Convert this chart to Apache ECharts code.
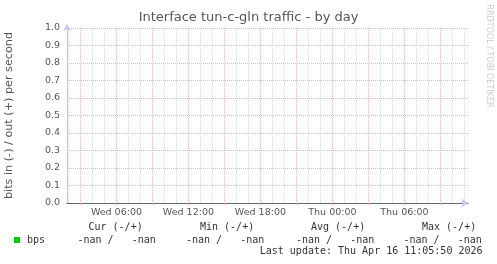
<!DOCTYPE html>
<html>
<head>
<meta charset="utf-8">
<script src="https://cdn.jsdelivr.net/npm/echarts@6/dist/echarts.min.js"></script>
<style>
html,body{margin:0;padding:0;background:#fff;}
#chart{width:497px;height:264px;}
</style>
</head>
<body>
<div id="chart"></div>
<script>
// Time axis in hours since Wed 00:00
const xStartHour = 1.88;
const xEndHour = 35.3;
const minorHours = [2,4,5,7,8,10,11,13,14,16,17,19,20,22,23,25,26,28,29,31,32,34,35];
const majorHours = [3,6,9,12,15,18,21,24,27,30,33];
const labelHours = [6,12,18,24,30];
const xLabels = ['Wed 06:00','Wed 12:00','Wed 18:00','Thu 00:00','Thu 06:00'];
const yTicks = [0,0.1,0.2,0.3,0.4,0.5,0.6,0.7,0.8,0.9,1.0];
// Series (no valid samples: all -nan)
const bpsIn = [];
const bpsOut = [];
const statHeaders = ['Cur (-/+)','Min (-/+)','Avg (-/+)','Max (-/+)'];
const statValues = ['-nan /   -nan','-nan /   -nan','-nan /   -nan','-nan /   -nan'];
const seriesName = 'bps';
const lastUpdate = 'Last update: Thu Apr 16 11:05:50 2026';

const RED = '#f2b0b0';
const GREY = '#d8d8d8';
const TXT = '#555555';
const MONO = '"DejaVu Sans Mono", monospace';
const SANS = '"DejaVu Sans", sans-serif';

const chart = echarts.init(document.getElementById('chart'), null, {renderer:'canvas'});
const plotH = 175;

const headerX = [88.5, 200, 311, 422];
const valueX = [77.5, 186, 296, 403.5];
const graphics = [
  {type:'text', left:'center', top:11, style:{text:'Interface tun-c-gln traffic - by day', font:'13px '+SANS, fill:TXT}},
  {type:'text', x:9.5, y:115.5, rotation:Math.PI/2, style:{text:'bits in (-) / out (+) per second', font:'11.2px '+SANS, fill:TXT, textAlign:'center', textVerticalAlign:'middle'}},
  {type:'text', x:489, y:56, rotation:-Math.PI/2, style:{text:'RRDTOOL / TOBI OETIKER', font:'8px '+SANS, fill:'#cccccc', textAlign:'center', textVerticalAlign:'middle'}},
  {type:'rect', shape:{x:14, y:237, width:6, height:6}, style:{fill:'#00cc00'}},
  {type:'text', x:27, y:240.3, style:{text:seriesName, font:'10px '+MONO, fill:'#333', textVerticalAlign:'middle'}},
  {type:'text', x:482.5, y:251.8, style:{text:lastUpdate, font:'10px '+MONO, fill:'#333', textAlign:'right', textVerticalAlign:'middle'}}
];
statHeaders.forEach((h,i)=>graphics.push({type:'text', x:headerX[i], y:227.7, style:{text:h, font:'10px '+MONO, fill:'#333', textVerticalAlign:'middle'}}));
statValues.forEach((v,i)=>graphics.push({type:'text', x:valueX[i], y:240.3, style:{text:v, font:'10px '+MONO, fill:'#333', textVerticalAlign:'middle'}}));

const option = {
  animation:false,
  backgroundColor:'#ffffff',
  grid:{left:67, right:29, top:28, bottom:61, containLabel:false},
  xAxis:[
    {type:'value', min:xStartHour, max:xEndHour, position:'bottom',
     axisLine:{show:false}, splitLine:{show:false}, axisLabel:{show:false},
     axisTick:{show:true, inside:true, length:plotH, customValues:minorHours, lineStyle:{color:GREY, type:'dotted', width:1}}},
    {type:'value', min:xStartHour, max:xEndHour, position:'bottom',
     axisLine:{show:false}, splitLine:{show:false}, axisLabel:{show:false},
     axisTick:{show:true, inside:true, length:plotH, customValues:majorHours, lineStyle:{color:RED, type:'dotted', width:1}}},
    {type:'value', min:xStartHour, max:xEndHour+0.5, position:'bottom',
     axisLine:{show:true, onZero:false, symbol:['none','arrow'], symbolSize:[7,7], symbolOffset:[0,0], lineStyle:{color:'#c4c8f4', width:1}},
     splitLine:{show:false}, axisLabel:{show:false}, axisTick:{show:false}},
    {type:'value', min:xStartHour, max:xEndHour, position:'bottom',
     axisLine:{show:true, onZero:false, lineStyle:{color:'#666677', width:1.2}},
     splitLine:{show:false},
     axisTick:{show:true, inside:false, length:2, customValues:majorHours, lineStyle:{color:RED, width:1}},
     axisLabel:{show:true, customValues:labelHours, margin:5, color:TXT, fontFamily:'DejaVu Sans', fontSize:9.5,
       formatter:(v)=>{const i=labelHours.indexOf(Math.round(v)); return i>=0?xLabels[i]:'';}}}
  ],
  yAxis:{type:'value', min:yTicks[0], max:yTicks[yTicks.length-1], interval:0.1,
    axisLine:{show:true, onZero:false, symbol:['none','arrow'], symbolSize:[6,7], symbolOffset:[0,4], lineStyle:{color:'#c4c8f4', width:1}},
    axisTick:{show:false},
    splitLine:{show:true, lineStyle:{color:RED, type:'dotted', width:1}},
    axisLabel:{color:TXT, fontFamily:'DejaVu Sans', fontSize:9.5, margin:7, formatter:(v)=>v.toFixed(1)}},
  series:[
    {name:seriesName, type:'line', xAxisIndex:3, data:bpsOut, showSymbol:false, lineStyle:{color:'#00cc00'}},
    {name:seriesName+' in', type:'line', xAxisIndex:3, data:bpsIn, showSymbol:false, lineStyle:{color:'#00cc00'}}
  ],
  graphic:graphics
};
chart.setOption(option);
</script>
</body>
</html>
